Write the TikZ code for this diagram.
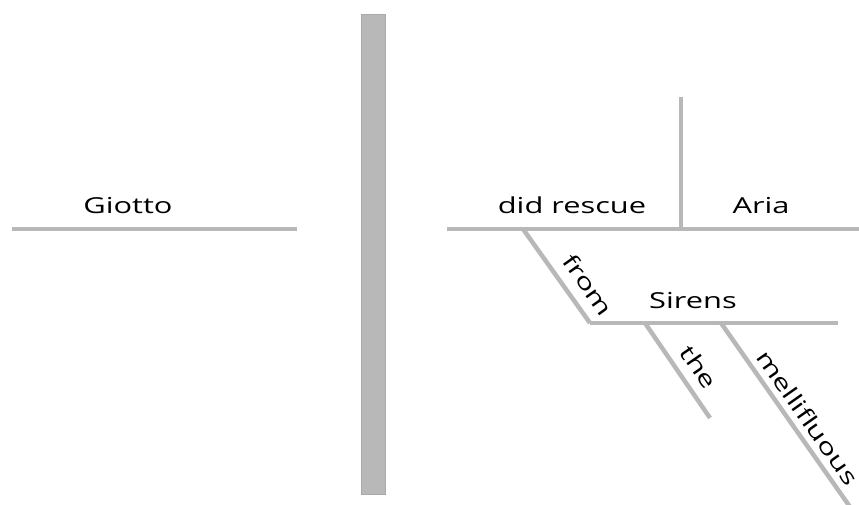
\documentclass[tikz,border=0pt]{standalone}
\usepackage{fontspec}
\setmainfont{Open Sans}[FakeStretch=1.4]
\usepackage{xcolor}
\usetikzlibrary{positioning}
\definecolor{linegray}{HTML}{B8B8B8}
\definecolor{bargray}{HTML}{AAAAAA}
\tikzset{%
  word/.style={font=\fontsize{22}{22}\selectfont, inner sep=1pt},
  slant word/.style={word, sloped},
  rule/.style={draw=linegray, line width=4.5pt},
  bar/.style={fill=linegray, draw=bargray, line width=1pt}
}

\begin{document}
\begin{tikzpicture}[x=1pt, y=-1pt]
      \useasboundingbox (0, 0) rectangle (859, 504);
      \clip (0, 0) rectangle (859, 504);

      % subject side
      \coordinate (subjL) at (12, 229);
      \coordinate (subjR) at (297, 229);
      \draw[rule] (subjL) -- (subjR);
      \node[word, anchor=base] (giotto) at (128, 213) {Giotto};

      \draw[bar] (361, 14) rectangle (385, 494);

      % predicate side
      \coordinate (predL) at (447, 229);
      \coordinate (predR) at (859, 229);
      \coordinate (splitTop) at (681, 97);
      \coordinate (splitBot) at (681, 229);
      \draw[rule] (predL) -- (predR);
      \draw[rule] (splitTop) -- (splitBot);
      \node[word, anchor=base] (rescue) at (572, 213) {did rescue};
      \node[word, anchor=base] (aria) at (761, 213) {Aria};

      % prepositional phrase
      \coordinate (fromTop) at (523, 229);
      \coordinate (fromBot) at (590, 323);
      \coordinate (sirensR) at (838, 323);
      \draw[rule] (fromTop) -- (fromBot) node[slant word, pos=0.72, above=9pt] (from) {from};
      \draw[rule] (fromBot) -- (sirensR);
      \node[word, anchor=base] (sirens) at (693, 308) {Sirens};

      \coordinate (theTop) at (645, 323);
      \coordinate (theBot) at (710, 418);
      \draw[rule] (theTop) -- (theBot) node[slant word, pos=0.58, above=8pt] (the) {the};

      \coordinate (melTop) at (721, 323);
      \coordinate (melBot) at (855, 514);
      \draw[rule] (melTop) -- (melBot) node[slant word, pos=0.545, above=5pt] (mell) {mellifluous};

    \end{tikzpicture}
\end{document}
